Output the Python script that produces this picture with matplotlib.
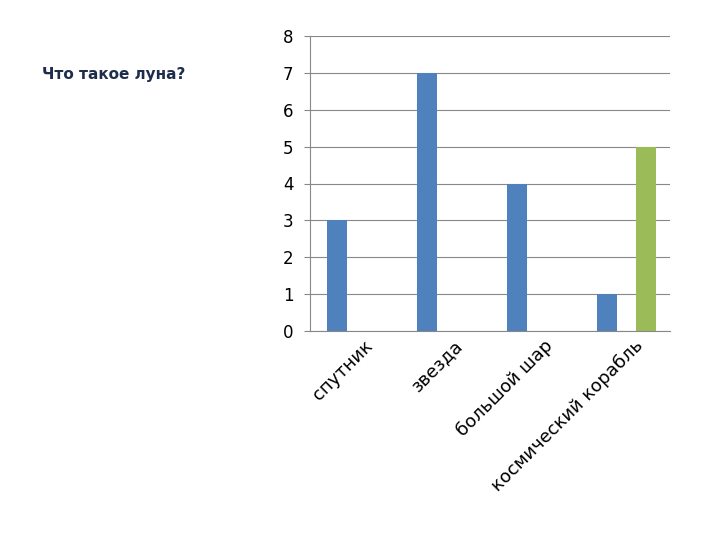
import matplotlib
matplotlib.use('Agg')
import matplotlib.pyplot as plt
import numpy as np

categories = ['спутник', 'звезда', 'большой шар', 'космический корабль']
series_blue = [3, 7, 4, 1]
series_green = [0, 0, 0, 5]

fig = plt.figure(figsize=(7.2, 5.4), dpi=100)
ax = fig.add_axes([310/720, 1 - 331/540, 360/720, 295/540])

x = np.arange(len(categories))
w = 0.22
ax.bar(x - 0.2, series_blue, width=w, color='#4f81bd')
ax.bar(x + 0.23, series_green, width=w, color='#9bbb59')

ax.set_xlim(-0.5, 3.5)
ax.set_ylim(0, 8)
ax.set_yticks(range(9))
ax.yaxis.grid(True, color='#888888', linewidth=0.8)
ax.set_axisbelow(True)
for s in ['top', 'right']:
    ax.spines[s].set_visible(False)
ax.spines['left'].set_color('#888888')
ax.spines['bottom'].set_color('#888888')
ax.tick_params(axis='y', length=4, colors='#888888', labelcolor='black', labelsize=12, pad=8)
ax.tick_params(axis='x', length=0, labelsize=13, pad=4)
ax.set_xticks(x + 0.1)
ax.set_xticklabels(categories, rotation=45, ha='right', rotation_mode='anchor')

fig.text(42/720, 1 - 74/540, 'Что такое луна?', fontsize=11, fontweight='bold',
         color='#1f2d4d', va='center')

fig.savefig('out.png', dpi=100)
